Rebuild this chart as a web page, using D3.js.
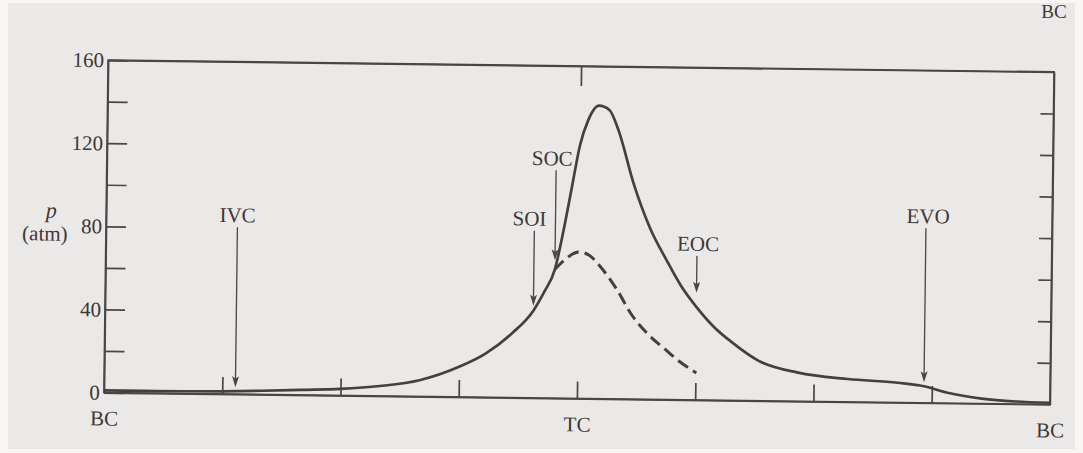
<!DOCTYPE html>
<html>
<head>
<meta charset="utf-8">
<script src="https://cdn.jsdelivr.net/npm/d3@7"></script>
<style>
  html, body { margin: 0; padding: 0; background: #f7f6f5; }
  svg { display: block; }
  text { font-family: "Liberation Serif", "DejaVu Serif", serif; fill: #3d3737; }
  .axis path, .axis line { stroke: #4b4544; stroke-width: 1.7; }
</style>
</head>
<body>
<svg width="1083" height="453"></svg>
<script>
// crank angle (deg, TC = 0) and cylinder pressure (atm)
var firedAngle = [-180, -165, -150, -135, -120, -105, -90, -75, -60, -45, -35, -25, -17, -13, -9,
                  -6, -3, 0, 3, 7, 11, 14.5, 20.5, 27, 33.5, 39, 45, 52, 59, 69, 84, 103, 122, 132,
                  141, 154, 167, 180];
var firedP = [1, 1, 1.1, 1.3, 1.8, 2.5, 3.2, 4.8, 7.8, 14.5, 21, 31, 42, 51, 62,
              80, 101, 122, 134, 141, 139, 129.5, 104, 82.5, 67, 55, 44.8, 35, 27.7, 19.2, 13.8, 11, 9.5, 8,
              5, 2.4, 1.2, 0.8];

// motored (no combustion) curve, dashed
var motoredAngle = [-9, -5, 0, 4, 8, 14.5, 20.5, 27, 33.5, 39, 45.3];
var motoredP = [62, 67, 70.5, 69, 64, 53, 40.5, 31, 24, 18.3, 13];

var eventNames = ["IVC", "SOI", "SOC", "EOC", "EVO"];
var eventAngle = [-130, -17, -9, 45, 132];

var yTickValues = [0, 20, 40, 60, 80, 100, 120, 140, 160];
var xTickValues = [-135, -90, -45, 0, 45, 90, 135];
var xLabelAngle = [-180, 0, 180];
var xLabelText = ["BC", "TC", "BC"];

(function() {
  var svg = d3.select("svg"),
      left = 106, right = 1052, top = 66, bottom = 398.5,
      ink = "#463f3e";

  // arrow layout per event: gap above curve, arrow length, label shift (px)
  var arrowGap = {IVC: 4, SOI: 5, SOC: 9, EOC: 14, EVO: 4},
      arrowLen = {IVC: 160, SOI: 75, SOC: 90, EOC: 37, EVO: 154},
      labelDx = {IVC: 0, SOI: -5, SOC: -4, EOC: 1, EVO: 2};

  // page tone of the scan
  svg.append("rect").attr("x", 8).attr("y", 3).attr("width", 1067).attr("height", 446)
    .attr("fill", "#ebe9e7");

  // label from the figure above, at the top edge
  svg.append("text").attr("x", 1054).attr("y", 18).attr("text-anchor", "middle")
    .style("font-size", "19px").text("BC");

  // the scan is slightly rotated
  var g = svg.append("g").attr("transform", "rotate(0.72, 580, 232)");

  var x = d3.scaleLinear().domain([-180, 180]).range([left, right]),
      y = d3.scaleLinear().domain([0, 160]).range([bottom, top]);

  // frame
  g.append("rect")
    .attr("x", left).attr("y", top)
    .attr("width", right - left).attr("height", bottom - top)
    .attr("fill", "none").attr("stroke", "#4b4544").attr("stroke-width", 1.7);

  g.append("g").attr("class", "axis")
    .attr("transform", "translate(" + left + ",0)")
    .call(d3.axisLeft(y).tickValues(yTickValues).tickSize(-20).tickSizeOuter(0).tickPadding(4)
      .tickFormat(function(d) { return d % 40 === 0 ? d : ""; }));

  g.append("g").attr("class", "axis")
    .attr("transform", "translate(" + right + ",0)")
    .call(d3.axisRight(y).tickValues(yTickValues.slice(1, -1)).tickSize(-13).tickSizeOuter(0)
      .tickFormat(""));

  g.append("g").attr("class", "axis")
    .attr("transform", "translate(0," + bottom + ")")
    .call(d3.axisBottom(x).tickValues(xTickValues).tickSize(-17).tickSizeOuter(0).tickFormat(""));

  g.append("g").attr("class", "axis")
    .attr("transform", "translate(0," + top + ")")
    .call(d3.axisTop(x).tickValues([0]).tickSize(-20).tickSizeOuter(0).tickFormat(""));

  var xl = g.append("g").attr("class", "axis")
    .attr("transform", "translate(0," + bottom + ")")
    .call(d3.axisBottom(x).tickValues(xLabelAngle).tickSize(0).tickPadding(18)
      .tickFormat(function(d, i) { return xLabelText[i]; }));
  xl.select(".domain").remove();

  g.selectAll(".axis text")
    .attr("fill", "#3d3737")
    .style("font-family", '"Liberation Serif", serif')
    .style("font-size", "21px");

  // y title
  g.append("text").attr("x", 51).attr("y", y(80) - 8).attr("text-anchor", "middle")
    .style("font-size", "22px").style("font-style", "italic").text("p");
  g.append("text").attr("x", 45).attr("y", y(80) + 15).attr("text-anchor", "middle")
    .style("font-size", "21px").text("(atm)");

  // curves
  var line = d3.line()
    .x(function(d) { return x(d[0]); })
    .y(function(d) { return y(d[1]); })
    .curve(d3.curveMonotoneX);

  g.append("path")
    .datum(motoredAngle.map(function(a, i) { return [a, motoredP[i]]; }))
    .attr("d", line)
    .attr("fill", "none").attr("stroke", ink).attr("stroke-width", 3)
    .attr("stroke-dasharray", "12,6");

  g.append("path")
    .datum(firedAngle.map(function(a, i) { return [a, firedP[i]]; }))
    .attr("d", line)
    .attr("fill", "none").attr("stroke", ink).attr("stroke-width", 2.7);

  // event arrows
  var pAt = d3.scaleLinear().domain(firedAngle).range(firedP);

  eventNames.forEach(function(name, i) {
    var ax = x(eventAngle[i]),
        tip = y(pAt(eventAngle[i])) - arrowGap[name],
        start = tip - arrowLen[name];
    g.append("line")
      .attr("x1", ax).attr("x2", ax).attr("y1", start).attr("y2", tip - 6)
      .attr("stroke", "#4b4544").attr("stroke-width", 1.3);
    g.append("path")
      .attr("d", "M0,0L-3.5,-11L0,-8.5L3.5,-11Z")
      .attr("transform", "translate(" + ax + "," + tip + ")")
      .attr("fill", "#4b4544");
    g.append("text")
      .attr("x", ax + labelDx[name]).attr("y", start - 5)
      .attr("text-anchor", "middle")
      .style("font-size", "21px")
      .text(name);
  });
})();
</script>
</body>
</html>
